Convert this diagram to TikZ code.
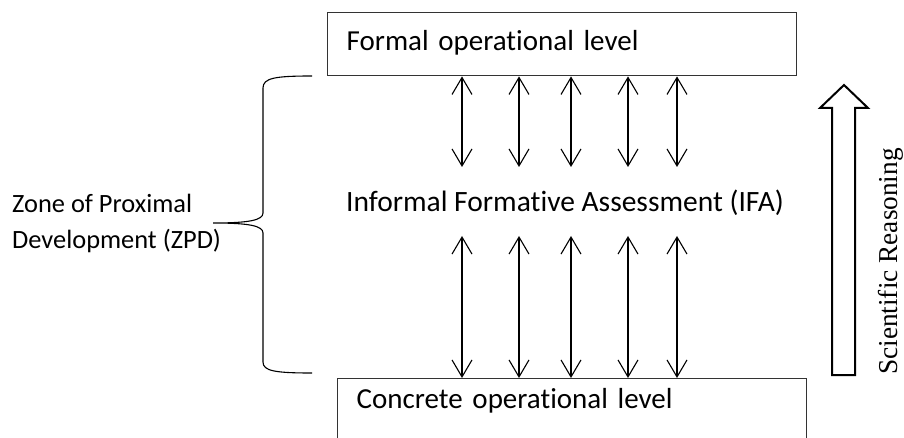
\documentclass[tikz,border=0pt]{standalone}
\usepackage{fontspec}
\setmainfont{Carlito}[Ligatures=NoCommon]
\newfontfamily\sciserif{Liberation Serif}
\usetikzlibrary{arrows.meta}
\begin{document}
\begin{tikzpicture}[x=1pt,y=-1pt,
  levelbox/.style={draw=black!80, line width=1.4pt, anchor=north west, inner ysep=0pt, inner xsep=19pt,
    minimum width=469pt, text width=431pt, align=left, font=\fontsize{29}{34}\selectfont},
  dbl/.style={{Straight Barb[length=17pt,width=20pt]}-{Straight Barb[length=17pt,width=20pt]}, line width=1.1pt},
  brace/.style={line width=1.1pt},
  bigarrow/.style={line width=2pt, line join=miter},
]
\clip (0,0) rectangle (904,438);
\fill[white] (0,0) rectangle (904,438);

% boxes
\node[levelbox, text height=38pt, text depth=25pt] (top) at (327,12) {Formal operational level};
\node[levelbox, text height=30pt, text depth=60pt, inner xsep=18pt] (bot) at (337,378) {Concrete operational level};

% middle label
\node[anchor=base, inner sep=0pt, font=\fontsize{29.5}{34}\selectfont] (ifa) at (565,212) {Informal Formative Assessment (IFA)};

% ZPD label
\node[anchor=west, inner sep=0pt, align=left, font=\fontsize{26.4}{36}\selectfont] (zpd) at (12,223) {Zone of Proximal\\Development (ZPD)};

% arrows
\foreach \i/\x in {1/462,2/519,3/571,4/628,5/677}{
  \coordinate (u\i) at (\x,167);
  \draw[dbl] (u\i |- top.south) -- (u\i);
  \coordinate (l\i) at (\x,236);
  \draw[dbl] (l\i) -- (l\i |- bot.north);
}

% brace
\draw[brace] (312,76) .. controls (275,76) and (263,78) .. (263,88)
  -- (263,213) .. controls (263,220) and (250,223) .. (213,223)
  .. controls (250,223) and (263,226) .. (263,233)
  -- (263,362) .. controls (263,371) and (275,373) .. (312,373);

% block arrow
\draw[bigarrow] (832,375) -- (832,108) -- (820,108) -- (844,85) -- (868,108) -- (855,108) -- (855,375) -- cycle;
\node[rotate=90, anchor=base, inner sep=0pt, font=\sciserif\fontsize{27.3}{30}\selectfont] (sci) at (897,261.5) {Scientific Reasoning};
\end{tikzpicture}
\end{document}
